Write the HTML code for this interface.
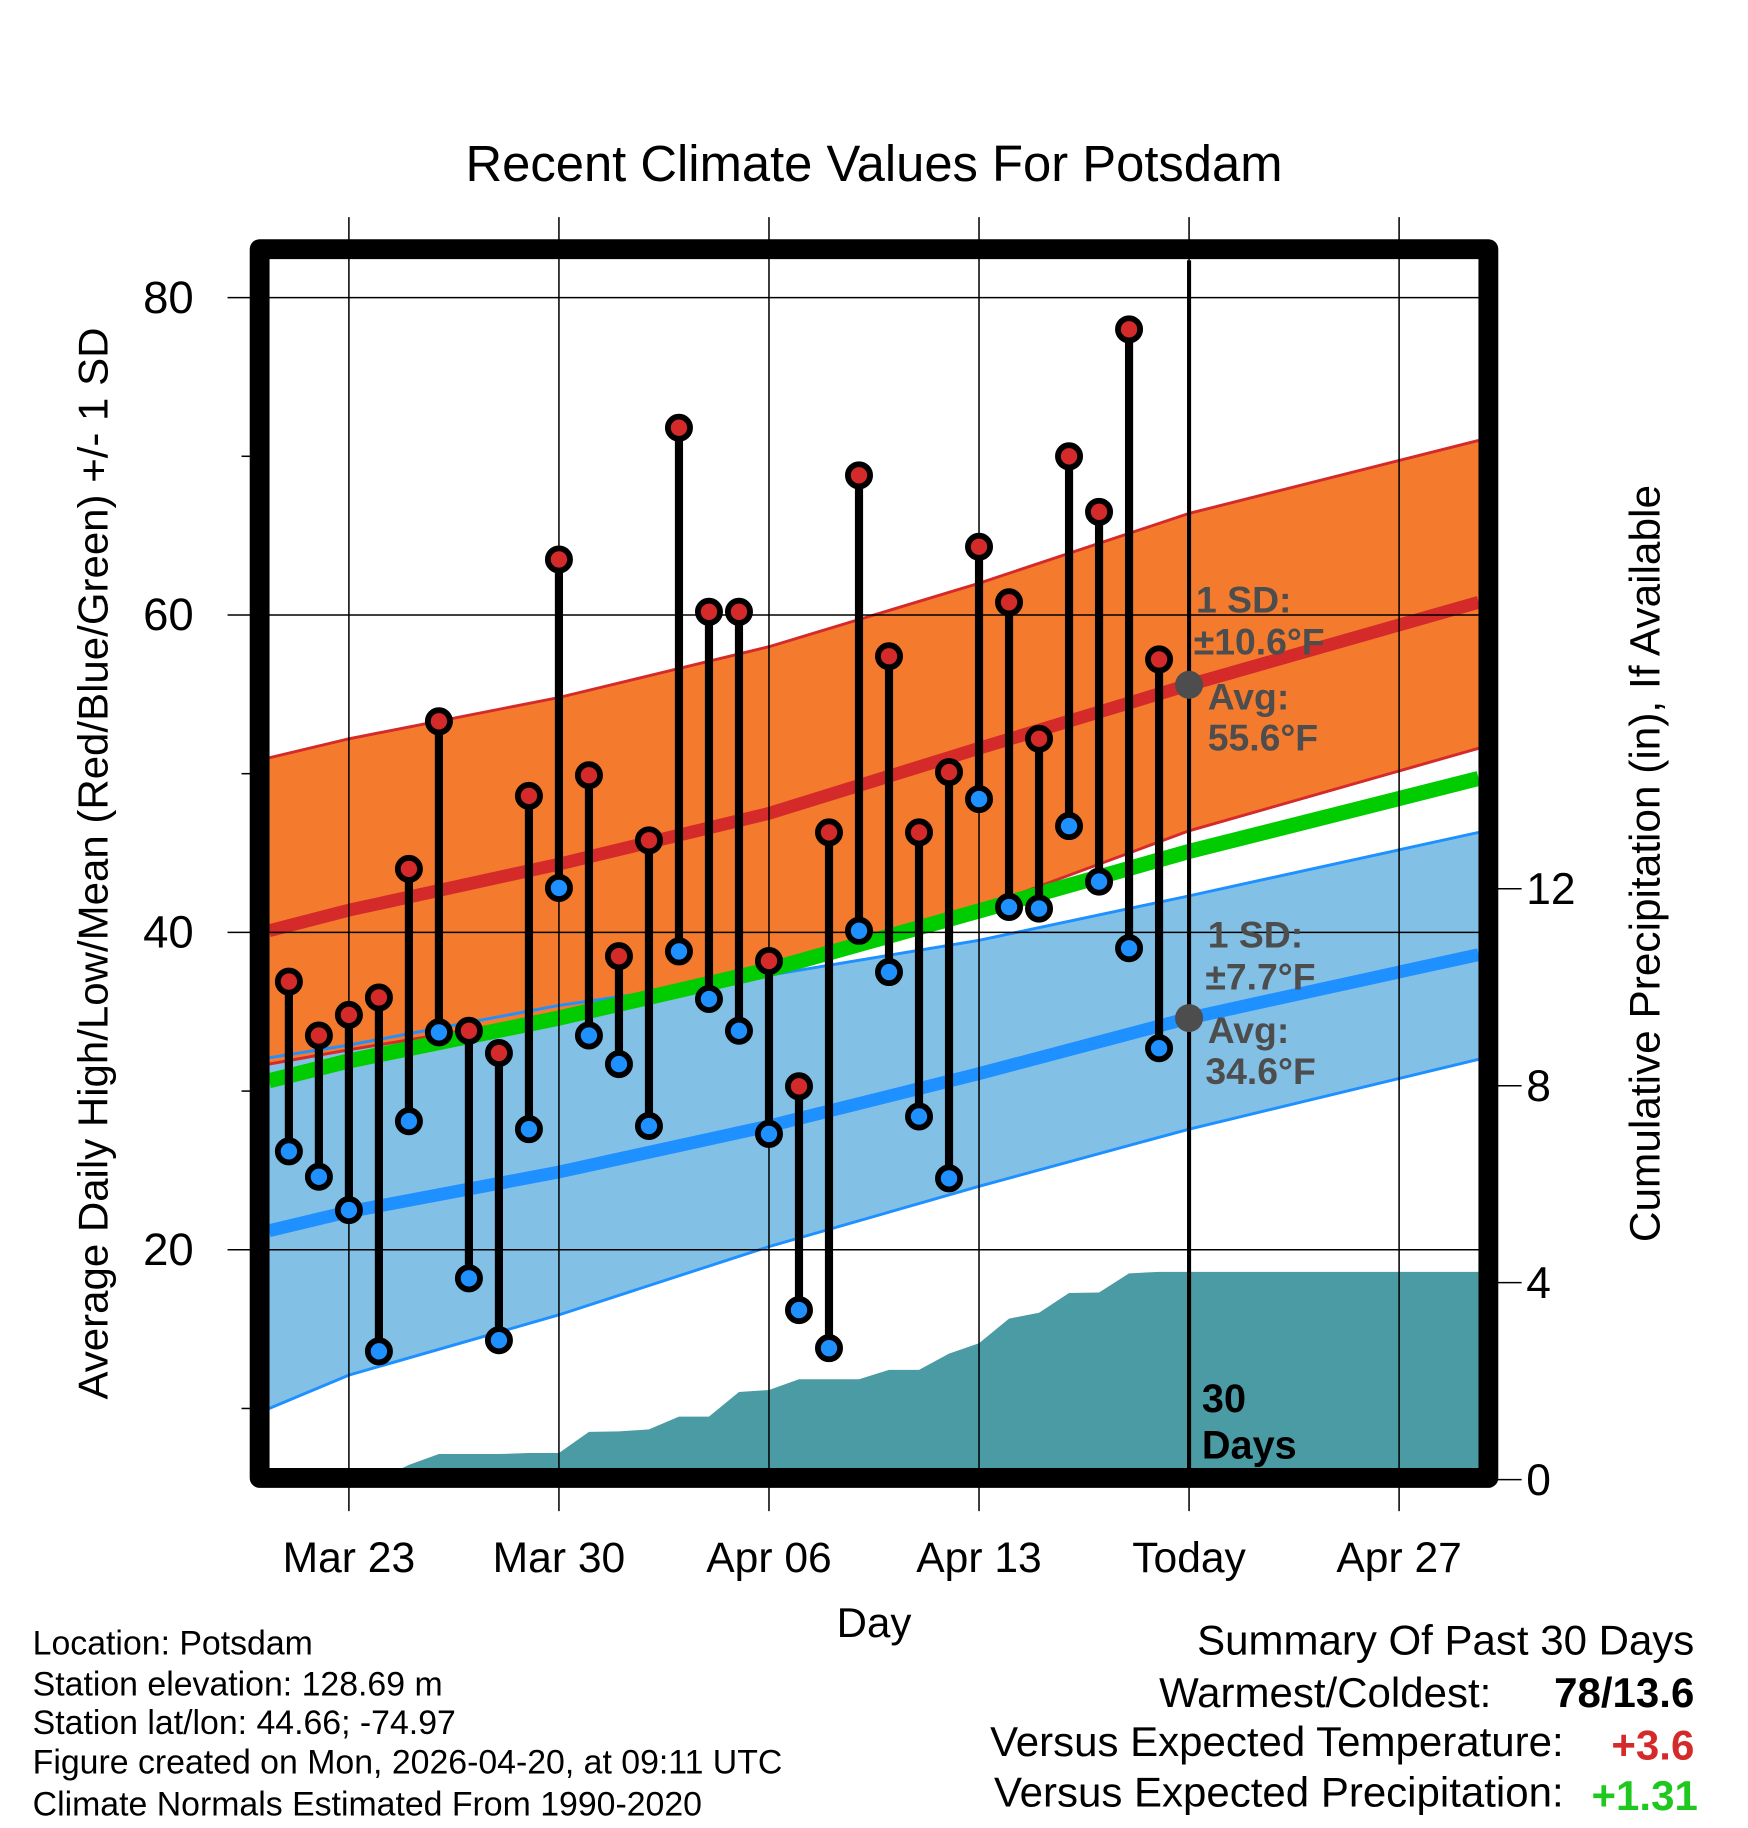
<!DOCTYPE html>
<html><head><meta charset="utf-8"><style>
html,body{margin:0;padding:0;background:#fff}
svg{display:block}
text{font-family:"Liberation Sans",Arial,sans-serif}
</style></head><body>
<svg id="chart" width="1748" height="1828" viewBox="0 0 1498 1566.5" xmlns="http://www.w3.org/2000/svg">
<defs><clipPath id="plotclip"><rect x="231" y="223" width="1036" height="1035"/></clipPath></defs>
<g id="bands" clip-path="url(#plotclip)"></g>
<g id="grid"></g>
<g id="marks" clip-path="url(#plotclip)"></g>
<g id="frame"></g>
<g id="labels"></g>
</svg>
<script>
// ---- data ----
const dayLabels = ["Mar 23","Mar 30","Apr 06","Apr 13","Today","Apr 27"];
const dayLabelIdx = [0,7,14,21,28,35];
const obsDays = [-2,-1,0,1,2,3,4,5,6,7,8,9,10,11,12,13,14,15,16,17,18,19,20,21,22,23,24,25,26,27];
const highs = [36.9,33.5,34.8,35.9,44.0,53.3,33.8,32.4,48.6,63.5,49.9,38.5,45.8,71.8,60.2,60.2,38.2,30.3,46.3,68.8,57.4,46.3,50.1,64.3,60.8,52.2,70.0,66.5,78.0,57.2];
const lows  = [26.2,24.6,22.5,13.6,28.1,33.7,18.2,14.3,27.6,42.8,33.5,31.7,27.8,38.8,35.8,33.8,27.3,16.2,13.8,40.1,37.5,28.4,24.5,48.4,41.6,41.5,46.7,43.2,39.0,32.7];
const precip = [0,0,0,0,0.3,0.52,0.52,0.52,0.54,0.54,0.97,0.98,1.02,1.28,1.28,1.78,1.82,2.04,2.04,2.04,2.23,2.23,2.56,2.77,3.27,3.39,3.79,3.8,4.19,4.22];
const normDays = [-2.66,0,7,14,21,28,37.65];
const avgHigh = [40.1,41.4,44.3,47.5,51.6,55.6,60.8];
const highUpper = [51.0,52.2,54.8,58.0,62.0,66.4,71.0];
const highLower = [31.7,32.6,34.8,37.3,41.5,46.4,51.6];
const avgLow = [21.2,22.4,24.9,27.8,31.1,34.6,38.6];
const lowUpper = [32.1,32.9,35.4,37.3,39.5,42.3,46.3];
const lowLower = [10.0,12.1,15.9,20.2,24.0,27.6,32.0];
const yTicks = [20,40,60,80];
const yMinor = [10,30,50,70];
const pTicks = [0,4,8,12];

// ---- axes ----
const X = d => 299 + d*180/7;
const Y = v => 255 + (80-v)*13.6;
const P = p => 1268 - p*42.2;
const NS="http://www.w3.org/2000/svg";
function mk(tag, attrs, parent){const e=document.createElementNS(NS,tag);for(const k in attrs)e.setAttribute(k,attrs[k]);parent.appendChild(e);return e;}
const bands=document.getElementById('bands'), grid=document.getElementById('grid'), marks=document.getElementById('marks'), frame=document.getElementById('frame'), labels=document.getElementById('labels');
function linePts(arr){return normDays.map((d,i)=>X(d)+','+Y(arr[i])).join(' ');}
function bandPts(up,lo){return linePts(up)+' '+normDays.map((d,i)=>X(d)+','+Y(lo[i])).reverse().join(' ');}

let e;
e=mk('polygon',{points:bandPts(lowUpper,lowLower),fill:'#82c0e6'},bands);

e=mk('polygon',{points:bandPts(highUpper,highLower),fill:'#f47a2e'},bands);

[[highUpper,'#d42a2a',2.5,'high-upper-line'],[highLower,'#d42a2a',2.5,'high-lower-line'],[lowUpper,'#1e90ff',2.5,'low-upper-line'],[lowLower,'#1e90ff',2.5,'low-lower-line']].forEach(a=>{
 e=mk('polyline',{points:linePts(a[0]),fill:'none',stroke:a[1],'stroke-width':a[2]},bands);
 
});
const meanArr=avgHigh.map((v,i)=>(v+avgLow[i])/2);
e=mk('polyline',{points:linePts(meanArr),fill:'none',stroke:'#00cc00','stroke-width':13},bands);

e=mk('polyline',{points:linePts(avgHigh),fill:'none',stroke:'#d42a2a','stroke-width':11},bands);

e=mk('polyline',{points:linePts(avgLow),fill:'none',stroke:'#1e90ff','stroke-width':11},bands);


// precip area
let pp = obsDays.map((d,i)=>X(d)+','+P(precip[i]));
pp.push(X(38)+','+P(precip[precip.length-1]), X(38)+','+P(0), X(obsDays[0])+','+P(0));
e=mk('polygon',{points:pp.join(' '),fill:'#4a9ba3'},bands);


// grid
dayLabelIdx.forEach(d=>{
 e=mk('line',{x1:X(d),x2:X(d),y1:186,y2:1295,stroke:'#000','stroke-width':1.3},grid);
 
});
yTicks.forEach(v=>{
 e=mk('line',{x1:195,x2:1267,y1:Y(v),y2:Y(v),stroke:'#000','stroke-width':1.3},grid);
 
});
yMinor.forEach(v=>{
 e=mk('line',{x1:207,x2:220,y1:Y(v),y2:Y(v),stroke:'#000','stroke-width':1.3},grid);
 
});
pTicks.forEach(p=>{
 e=mk('line',{x1:1280,x2:1304,y1:P(p),y2:P(p),stroke:'#000','stroke-width':1.3},grid);
 
});

// today line
e=mk('line',{x1:X(28),x2:X(28),y1:223,y2:1258,stroke:'#000','stroke-width':3.5},marks);


// stems + markers
obsDays.forEach((d,i)=>{
 e=mk('line',{x1:X(d),x2:X(d),y1:Y(highs[i]),y2:Y(lows[i]),stroke:'#000','stroke-width':7},marks);
 
});
obsDays.forEach((d,i)=>{
 e=mk('circle',{cx:X(d),cy:Y(highs[i]),r:9.5,fill:'#d42a2a',stroke:'#000','stroke-width':5},marks);
 
 e=mk('circle',{cx:X(d),cy:Y(lows[i]),r:9.5,fill:'#1e90ff',stroke:'#000','stroke-width':5},marks);
 
});
e=mk('circle',{cx:X(28),cy:Y(avgHigh[5]),r:12,fill:'#4d4d4d'},marks);

e=mk('circle',{cx:X(28),cy:Y(avgLow[5]),r:12,fill:'#4d4d4d'},marks);


// frame
e=mk('rect',{x:222.5,y:213.5,width:1053,height:1053,fill:'none',stroke:'#000','stroke-width':17,'stroke-linejoin':'round'},frame);


// labels
function txt(s,attrs,name){const t=mk('text',attrs,labels);t.textContent=s;return t;}
yTicks.forEach(v=>txt(String(v),{x:166,y:Y(v)+13,'font-size':39,'text-anchor':'end'},'y-tick-label'));
pTicks.forEach(p=>txt(String(p),{x:1308,y:P(p)+13,'font-size':38},'precip-tick-label'));
dayLabelIdx.forEach((d,i)=>txt(dayLabels[i],{x:X(d),y:1347,'font-size':36.5,'text-anchor':'middle'},'x-tick-label'));
</script>
<script>
(function(){
const labels=document.getElementById('labels');const NS="http://www.w3.org/2000/svg";
function t(s,x,y,size,opts,name){const e=document.createElementNS(NS,'text');e.setAttribute('x',x);e.setAttribute('y',y);e.setAttribute('font-size',size);for(const k in opts)e.setAttribute(k,opts[k]);e.textContent=s;


labels.appendChild(e);}
t('Recent Climate Values For Potsdam',749,155,43.5,{'text-anchor':'middle'},'chart-title');
t('Day',749,1403,36,{'text-anchor':'middle'},'x-axis-title');
t('Average Daily High/Low/Mean (Red/Blue/Green) +/- 1 SD',92,740,36,{'text-anchor':'middle',transform:'rotate(-90 92 740)'},'y-axis-title');
t('Cumulative Precipitation (in), If Available',1422,740,36.3,{'text-anchor':'middle',transform:'rotate(-90 1422 740)'},'precip-axis-title');
const g={fill:'#4d4d4d','font-weight':'bold'};
t('1 SD:',1025,525,32,g,'high-sd-label');
t('±10.6°F',1023,561,32,g,'high-sd-value');
t('Avg:',1035,608,32,g,'high-avg-label');
t('55.6°F',1035,643,32,g,'high-avg-value');
t('1 SD:',1035,812,32,g,'low-sd-label');
t('±7.7°F',1033,848,32,g,'low-sd-value');
t('Avg:',1035,894,32,g,'low-avg-label');
t('34.6°F',1033,929,32,g,'low-avg-value');
t('30',1030,1210,34,{'font-weight':'bold'},'days-label-number');
t('Days',1030,1250,34,{'font-weight':'bold'},'days-label-text');
['Location: Potsdam','Station elevation: 128.69 m','Station lat/lon: 44.66; -74.97','Figure created on Mon, 2026-04-20, at 09:11 UTC','Climate Normals Estimated From 1990-2020'].forEach((s,i)=>t(s,28,[1418,1453,1486,1520,1556][i],29,{},'station-info-line'));
t('Summary Of Past 30 Days',1452,1418,36,{'text-anchor':'end'},'summary-title');
t('Warmest/Coldest:',1278,1463,36,{'text-anchor':'end'},'warmest-coldest-label');
t('78/13.6',1452,1463,36,{'text-anchor':'end','font-weight':'bold'},'warmest-coldest-value');
t('Versus Expected Temperature:',1340,1505,36,{'text-anchor':'end'},'temp-anomaly-label');
t('+3.6',1452,1508,36,{'text-anchor':'end','font-weight':'bold',fill:'#d42a2a'},'temp-anomaly-value');
t('Versus Expected Precipitation:',1340,1548,36,{'text-anchor':'end'},'precip-anomaly-label');
t('+1.31',1455,1551,36,{'text-anchor':'end','font-weight':'bold',fill:'#1ec81e'},'precip-anomaly-value');
})();
</script>
</body></html>
